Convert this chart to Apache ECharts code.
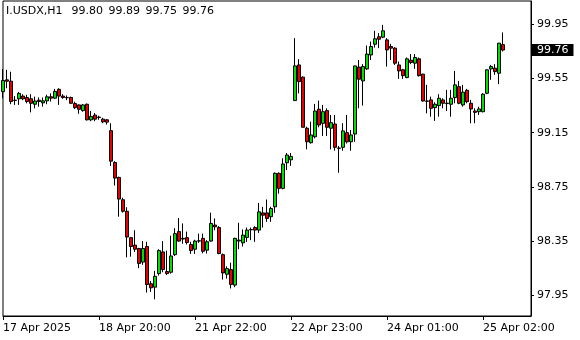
<!DOCTYPE html>
<html>
<head>
<meta charset="utf-8">
<script src="https://cdn.jsdelivr.net/npm/echarts@6/dist/echarts.min.js"></script>
<style>html,body{margin:0;padding:0;background:#fff}#c{width:580px;height:340px}</style>
</head>
<body>
<div id="c"></div>
<script>
const symbolName = 'I.USDX,H1';

const opens = [99.453,99.54,99.53,99.39,99.40,99.42,99.41,99.40,99.36,99.39,
99.37,99.385,99.415,99.405,99.47,99.42,99.41,99.41,99.365,99.355,
99.313,99.36,99.245,99.28,99.265,99.25,99.245,99.165,98.93,98.82,
98.655,98.57,98.375,98.32,98.295,98.195,98.31,98.035,98.01,98.11,
98.27,98.125,98.12,98.25,98.42,98.37,98.375,98.325,98.29,98.35,
98.37,98.283,98.35,98.468,98.45,98.25,98.105,98.14,98.025,98.357,
98.337,98.377,98.433,98.45,98.431,98.558,98.558,98.53,98.603,98.85,
98.739,98.928,98.95,99.387,99.65,99.56,99.183,99.076,99.12,99.323,
99.219,99.313,99.183,99.214,99.037,99.042,99.15,99.083,99.14,99.634,
99.532,99.621,99.724,99.803,99.858,99.855,99.835,99.786,99.774,99.65,
99.614,99.557,99.685,99.663,99.695,99.582,99.384,99.392,99.335,99.35,
99.392,99.368,99.36,99.409,99.49,99.355,99.463,99.367,99.31,99.305,
99.305,99.441,99.621,99.626,99.589,99.80];

const highs = [99.62,99.614,99.60,99.42,99.45,99.434,99.43,99.434,99.416,99.41,
99.41,99.43,99.44,99.473,99.478,99.434,99.425,99.416,99.379,99.358,
99.362,99.365,99.31,99.295,99.275,99.26,99.25,99.22,98.94,98.825,
98.67,98.60,98.38,98.43,98.30,98.35,98.345,98.055,98.13,98.29,
98.35,98.28,98.39,98.445,98.52,98.48,98.42,98.345,98.36,98.405,
98.405,98.357,98.56,98.517,98.46,98.258,98.164,98.19,98.375,98.485,
98.436,98.45,98.45,98.46,98.632,98.603,98.657,98.603,98.857,98.857,
98.961,99.0,99.0,99.848,99.693,99.565,99.194,99.231,99.362,99.387,
99.355,99.33,99.281,99.281,99.052,99.22,99.281,99.17,99.645,99.687,
99.656,99.793,99.823,99.902,99.885,99.946,99.848,99.806,99.781,99.675,
99.621,99.705,99.73,99.73,99.705,99.585,99.503,99.416,99.375,99.434,
99.404,99.466,99.466,99.606,99.532,99.503,99.473,99.392,99.33,99.342,
99.441,99.616,99.65,99.656,99.812,99.89];

const lows = [99.404,99.478,99.36,99.355,99.355,99.39,99.367,99.30,99.33,99.342,
99.342,99.36,99.38,99.40,99.355,99.40,99.39,99.364,99.325,99.29,
99.305,99.24,99.235,99.235,99.245,99.22,99.21,98.905,98.76,98.53,
98.56,98.23,98.235,98.27,98.15,98.175,97.97,97.975,97.92,98.095,
98.12,98.10,98.11,98.24,98.345,98.33,98.325,98.255,98.255,98.337,
98.26,98.258,98.345,98.43,98.253,98.066,98.073,98.0,98.01,98.29,
98.31,98.344,98.357,98.344,98.41,98.45,98.492,98.492,98.558,98.70,
98.732,98.874,98.905,99.385,99.44,99.19,99.027,99.07,99.108,99.19,
99.126,99.126,99.027,99.017,98.854,99.017,99.07,99.017,99.083,99.33,
99.35,99.614,99.687,99.778,99.774,99.848,99.638,99.687,99.65,99.547,
99.547,99.552,99.656,99.621,99.564,99.38,99.293,99.268,99.237,99.268,
99.33,99.31,99.268,99.367,99.36,99.342,99.367,99.219,99.22,99.281,
99.30,99.434,99.54,99.577,99.508,99.75];

const closes = [99.535,99.53,99.38,99.388,99.44,99.40,99.38,99.367,99.384,99.38,
99.385,99.415,99.405,99.455,99.42,99.41,99.408,99.367,99.335,99.323,
99.355,99.245,99.27,99.25,99.262,99.23,99.228,98.94,98.815,98.66,
98.57,98.38,98.31,98.29,98.185,98.295,98.03,98.005,98.09,98.28,
98.14,98.11,98.24,98.405,98.35,98.365,98.34,98.28,98.35,98.352,
98.275,98.345,98.48,98.455,98.258,98.115,98.147,98.03,98.37,98.35,
98.394,98.431,98.436,98.431,98.566,98.541,98.517,98.59,98.85,98.739,
98.919,98.985,98.975,99.643,99.527,99.19,99.083,99.133,99.31,99.207,
99.305,99.19,99.224,99.042,99.035,99.163,99.083,99.133,99.643,99.545,
99.638,99.73,99.786,99.843,99.84,99.902,99.761,99.774,99.663,99.606,
99.571,99.695,99.668,99.705,99.571,99.384,99.382,99.33,99.36,99.404,
99.367,99.365,99.404,99.503,99.367,99.449,99.379,99.325,99.30,99.325,
99.434,99.614,99.638,99.601,99.811,99.76];

const tickIdx = [0, 24, 48, 72, 96, 120];
const tickText = ['17 Apr 2025', '18 Apr 20:00', '21 Apr 22:00', '22 Apr 23:00', '24 Apr 01:00', '25 Apr 02:00'];
const priceTicks = [97.95, 98.35, 98.75, 99.15, 99.55, 99.95];

const slotCount = 133; // visible bar slots incl. empty space on the right
const categories = [];
for (let i = 0; i < slotCount; i++) {
  const k = tickIdx.indexOf(i);
  categories.push(k >= 0 ? tickText[k] : 'bar' + i);
}
const candles = opens.map((o, i) => [o, closes[i], lows[i], highs[i]]);
const n = opens.length - 1;
const lastPrice = closes[n];
const EN = '\u2002';
const titleText = symbolName + EN + ' ' + [opens[n], highs[n], lows[n], closes[n]].map(v => v.toFixed(2)).join(EN);
const FONT = 'DejaVu Sans';
const Y_MIN = 97.797, Y_MAX = 100.122;

const chart = echarts.init(document.getElementById('c'), null, {renderer: 'canvas'});
chart.setOption({
  animation: false,
  backgroundColor: '#fff',
  textStyle: {fontFamily: FONT},
  title: {
    text: titleText, left: 6, top: 6, padding: 0,
    textStyle: {fontSize: 11, fontWeight: 'normal', color: '#000', fontFamily: FONT}
  },
  grid: {left: 2.5, right: 49, top: 1, bottom: 24, show: true, borderColor: '#000', borderWidth: 1},
  xAxis: {
    type: 'category', data: categories, boundaryGap: false,
    axisLine: {show: true, lineStyle: {color: '#000', width: 1}},
    axisTick: {show: true, length: 4, interval: (i) => tickIdx.includes(i), lineStyle: {color: '#000'}},
    axisLabel: {
      interval: (i) => tickIdx.includes(i), align: 'left', color: '#000',
      fontSize: 11, fontFamily: FONT, margin: 7
    },
    splitLine: {show: false}
  },
  yAxis: [{
    type: 'value', position: 'right', min: Y_MIN, max: Y_MAX,
    axisLine: {show: true, lineStyle: {color: '#000', width: 1}},
    axisTick: {show: true, length: 3, customValues: priceTicks, lineStyle: {color: '#000'}},
    axisLabel: {customValues: priceTicks, formatter: (v) => v.toFixed(2), color: '#000', fontSize: 11, fontFamily: FONT, margin: 6},
    splitLine: {show: false}
  }, {
    type: 'value', position: 'right', offset: 0, min: Y_MIN, max: Y_MAX,
    axisLine: {show: false}, axisTick: {show: false}, splitLine: {show: false},
    axisLabel: {
      customValues: [lastPrice], formatter: (v) => v.toFixed(2),
      color: '#fff', backgroundColor: '#000', fontSize: 11, fontFamily: FONT,
      padding: [1, 5, 0, 5], margin: 1
    }
  }],
  series: [{
    type: 'candlestick',
    data: candles,
    barWidth: 3,
    itemStyle: {color: '#00e000', color0: '#e80000', borderColor: '#000', borderColor0: '#000', borderWidth: 1}
  }]
});
</script>
</body>
</html>
